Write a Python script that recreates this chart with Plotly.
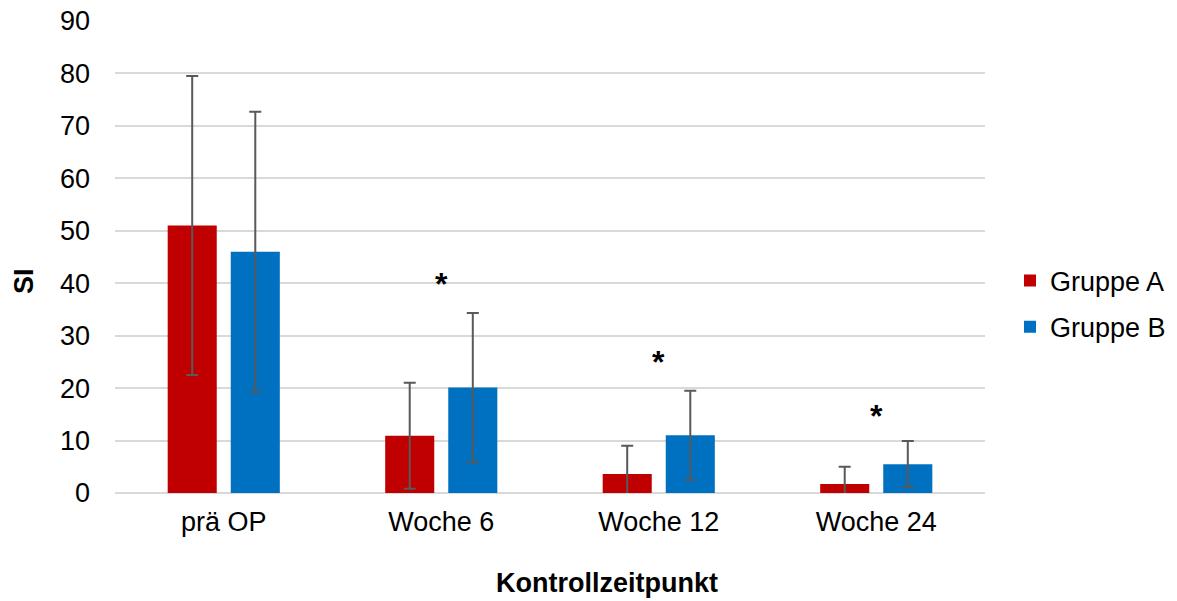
import plotly.graph_objects as go

# Kontrollzeitpunkte und Mittelwerte ± Standardabweichung
categories = ["prä OP", "Woche 6", "Woche 12", "Woche 24"]
gruppe_a_mean = [51.0, 10.9, 3.6, 1.7]
gruppe_a_sd = [28.5, 10.1, 5.4, 3.3]
gruppe_b_mean = [46.0, 20.1, 11.0, 5.5]
gruppe_b_sd = [26.7, 14.2, 8.5, 4.4]

# Signifikanzmarkierungen (Kategorie, y-Position)
sig_categories = ["Woche 6", "Woche 12", "Woche 24"]
sig_y = [39.8, 24.9, 14.6]

y_ticks = [0, 10, 20, 30, 40, 50, 60, 70, 80, 90]

FONT = "Liberation Sans, Arial, sans-serif"
FS = 27
ERR_COLOR = "#595959"

fig = go.Figure()
fig.add_trace(go.Bar(
    x=categories, y=gruppe_a_mean, name="Gruppe A",
    marker=dict(color="#C00000", line=dict(width=0)),
    error_y=dict(type="data", array=gruppe_a_sd, visible=True,
                 color=ERR_COLOR, thickness=2, width=6),
    legendgroup="a",
))
fig.add_trace(go.Bar(
    x=categories, y=gruppe_b_mean, name="Gruppe B",
    marker=dict(color="#0070C0", line=dict(width=0)),
    error_y=dict(type="data", array=gruppe_b_sd, visible=True,
                 color=ERR_COLOR, thickness=2, width=6),
    legendgroup="b",
))

for cat, yv in zip(sig_categories, sig_y):
    fig.add_annotation(x=cat, y=yv, text="<b>*</b>", showarrow=False,
                       font=dict(family=FONT, size=32, color="#000000"))

# Achsentitel
fig.add_annotation(xref="paper", yref="paper", x=(607 - 115) / 870,
                   y=(493 - 583) / 472, xanchor="center", yanchor="middle",
                   text="<b>Kontrollzeitpunkt</b>", showarrow=False,
                   font=dict(family=FONT, size=FS, color="#000000"))
fig.add_annotation(xref="paper", yref="paper", x=(24 - 115) / 870,
                   y=(493 - 281) / 472, xanchor="center", yanchor="middle",
                   text="<b>SI</b>", showarrow=False, textangle=-90,
                   font=dict(family=FONT, size=FS, color="#000000"))

fig.update_layout(
    width=1177, height=601,
    margin=dict(l=115, r=192, t=21, b=108, autoexpand=False),
    paper_bgcolor="white", plot_bgcolor="white",
    barmode="group", bargap=0.42, bargroupgap=0.222,
    font=dict(family=FONT, size=FS, color="#000000"),
    legend=dict(x=(1010 - 115) / 870, y=(493 - 304) / 472,
                xanchor="left", yanchor="middle",
                font=dict(size=FS), tracegroupgap=8,
                bgcolor="rgba(0,0,0,0)"),
    xaxis=dict(showgrid=False, showline=False, zeroline=False,
               ticks="", ticklabelstandoff=10, automargin=False,
               tickfont=dict(size=FS)),
    yaxis=dict(range=[0, 90], tickvals=y_ticks, showgrid=True,
               gridcolor="#D9D9D9", gridwidth=1.5, zeroline=True,
               zerolinecolor="#D9D9D9", zerolinewidth=1.5,
               showline=False, ticks="", ticklabelstandoff=24,
               automargin=False, tickfont=dict(size=FS)),
)

fig.write_html("out.html")
